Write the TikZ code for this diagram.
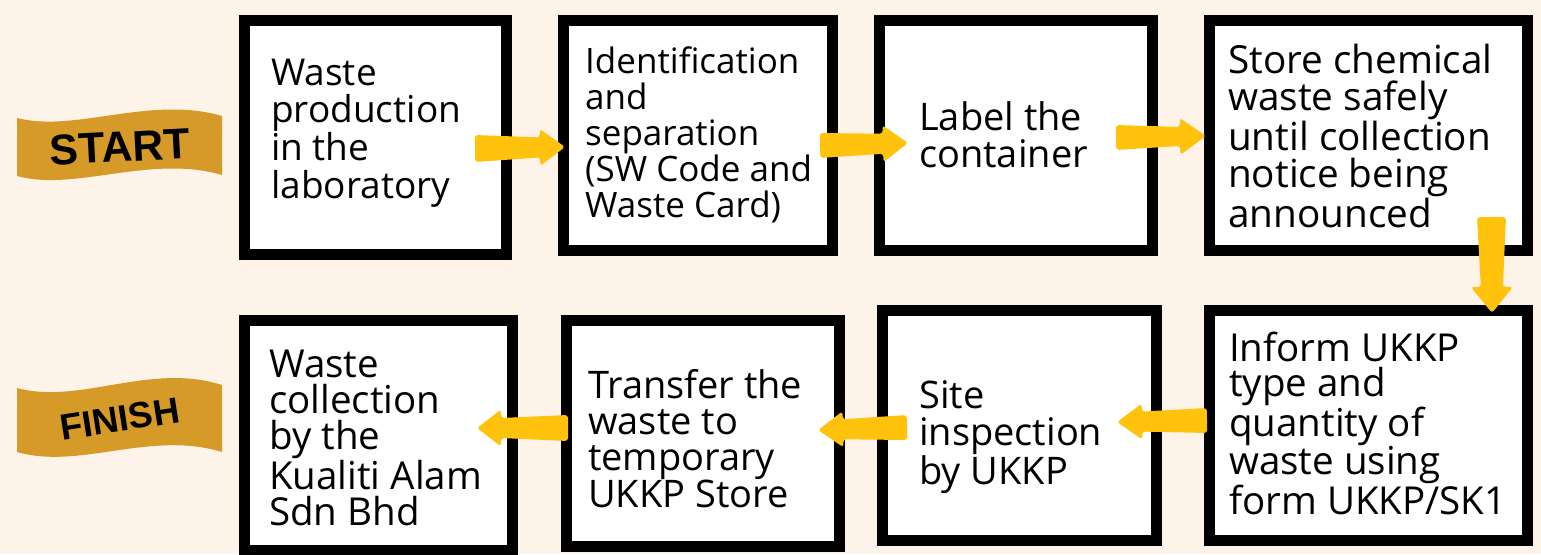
\documentclass[tikz,border=0pt]{standalone}
\usepackage{fontspec}
\setmainfont{Open Sans}
\newfontfamily\bannerfont{Liberation Sans}
\usetikzlibrary{calc}
\definecolor{bg}{RGB}{253,243,232}
\definecolor{gold}{RGB}{213,154,40}
\definecolor{arrowy}{RGB}{255,195,14}
\newcommand\boxtext[3]{\fontsize{#1}{#2}\selectfont\parbox[t]{330pt}{\raggedright #3}}
% #1 tail, #2 tip, #3 tail half width, #4 shaft half width at head, #5 head half width, #6 head length
\newcommand\fatarrow[6]{%
\fill[arrowfill] let \p1=(#1), \p2=(#2), \n1={atan2(\y2-\y1,\x2-\x1)}, \n2={veclen(\x2-\x1,\y2-\y1)} in
 ($(\p1)+(\n1+90:#3pt)$) --
 ($(\p1)+(\n1:\n2-#6pt)+(\n1+90:#4pt)$) --
 ($(\p1)+(\n1:\n2-#6pt)+(\n1+90:#5pt)$) --
 (\p2) --
 ($(\p1)+(\n1:\n2-#6pt)+(\n1-90:#5pt)$) --
 ($(\p1)+(\n1:\n2-#6pt)+(\n1-90:#4pt)$) --
 ($(\p1)+(\n1-90:#3pt)$) -- cycle;}
\begin{document}
\begin{tikzpicture}[x=1pt,y=1pt,
  stepbox/.style={rectangle,draw=black,line width=11pt,fill=white,inner sep=0pt},
  txt/.style={anchor=base west,inner sep=0pt,text=black},
  arrowfill/.style={fill=arrowy,rounded corners=3pt},
  bannertxt/.style={font=\bannerfont\bfseries,text=black,inner sep=0pt}]
\fill[bg] (0,0) rectangle (1541,-554);
\useasboundingbox (0,0) rectangle (1541,-554);

% banners
\fill[gold] (17,-118) .. controls (75,-133) and (150,-95) .. (222,-116)
  -- (222,-175) .. controls (150,-154) and (75,-192) .. (17,-176) -- cycle;
\node[bannertxt,rotate=3,font=\bannerfont\bfseries\fontsize{43}{43}\selectfont] (startlbl) at (120,-147) {START};
\fill[gold] (17,-388) .. controls (80,-405) and (150,-362) .. (222,-385)
  -- (222,-452) .. controls (150,-430) and (80,-470) .. (17,-452) -- cycle;
\node[bannertxt,rotate=9,font=\bannerfont\bfseries\fontsize{36.5}{36.5}\selectfont] (finishlbl) at (120,-419) {FINISH};

% boxes (outer extents minus line width)
\node[stepbox,minimum width=262pt,minimum height=234pt] (b1) at (375.5,-137.5) {};
\node[stepbox,minimum width=269pt,minimum height=230pt] (b2) at (698,-135.5) {};
\node[stepbox,minimum width=273pt,minimum height=230pt] (b3) at (1016,-135.5) {};
\node[stepbox,minimum width=318pt,minimum height=230pt] (b4) at (1368.5,-135.5) {};
\node[stepbox,minimum width=268pt,minimum height=230pt] (b5) at (378.5,-435.5) {};
\node[stepbox,minimum width=273pt,minimum height=226pt] (b6) at (703,-433.5) {};
\node[stepbox,minimum width=274pt,minimum height=230pt] (b7) at (1019.5,-425.5) {};
\node[stepbox,minimum width=318pt,minimum height=230pt] (b8) at (1368.5,-425.5) {};

% texts
\node[txt] (t1) at (271,-85) {\boxtext{37}{37.7}{Waste\\production\\in the\\laboratory}};
\node[txt] (t2) at (585,-73) {\boxtext{35}{36}{Identification\\and\\separation\\(SW Code and\\Waste Card)}};
\node[txt] (t3) at (919,-130) {\boxtext{38}{37}{Label the\\container}};
\node[txt] (t4) at (1228,-73) {\boxtext{38.7}{37.3}{Store chemical\\waste safely\\until collection\\notice being\\announced}};
\node[txt] (t5) at (269,-377) {\boxtext{38.5}{36.3}{Waste\\collection\\by the\\Kualiti Alam\\Sdn Bhd}};
\node[txt] (t6) at (588,-398) {\boxtext{38}{36}{Transfer the\\waste to\\temporary\\UKKP Store}};
\node[txt] (t7) at (919,-408) {\boxtext{38}{37.5}{Site\\inspection\\by UKKP}};
\node[txt] (t8) at (1229,-361) {\boxtext{38.5}{35.5}{Inform UKKP\\type and\\quantity of\\waste using\\form UKKP/SK1}};

% arrow end points
\coordinate (a1t) at (475,-148.5);  \coordinate (a1h) at (565,-147);
\coordinate (a2t) at (820,-145.5);  \coordinate (a2h) at (908,-143);
\coordinate (a3t) at (1116,-137.5); \coordinate (a3h) at (1206,-136);
\coordinate (a4t) at (1491.5,-217); \coordinate (a4h) at (1492,-313);
\coordinate (a5t) at (1207,-420.5); \coordinate (a5h) at (1117,-422);
\coordinate (a6t) at (907,-427.5);  \coordinate (a6h) at (818,-430);
\coordinate (a7t) at (568,-428);    \coordinate (a7h) at (477,-428);

\fatarrow{a1t}{a1h}{13.5}{10}{18.5}{25}
\fatarrow{a2t}{a2h}{12.5}{10}{18.5}{25}
\fatarrow{a3t}{a3h}{12.5}{9.5}{18.5}{26}
\fatarrow{a4t}{a4h}{14.5}{11}{21}{26}
\fatarrow{a5t}{a5h}{12.5}{10}{18}{25}
\fatarrow{a6t}{a6h}{12.5}{10}{18}{25}
\fatarrow{a7t}{a7h}{13}{10}{18.5}{24}
\end{tikzpicture}
\end{document}
